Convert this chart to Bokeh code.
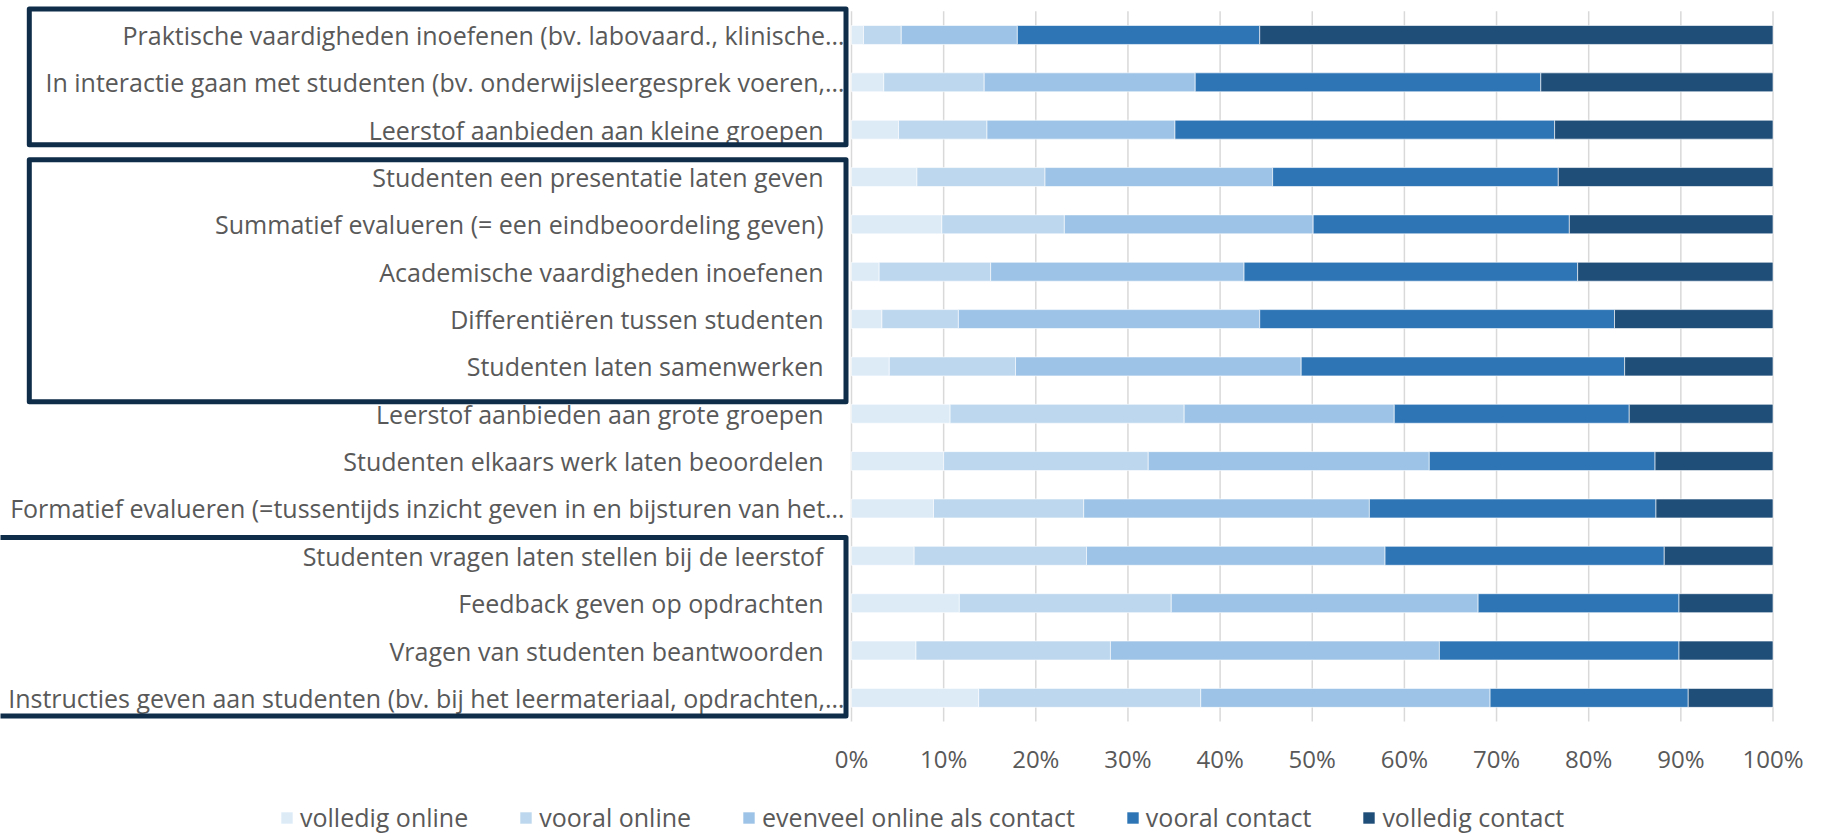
from bokeh.plotting import figure
from bokeh.models import Range1d, Legend, LegendItem, ColumnDataSource
from bokeh.core.properties import value
from bokeh.embed import file_html
from bokeh.resources import INLINE

categories = [
    "Praktische vaardigheden inoefenen (bv. labovaard., klinische…",
    "In interactie gaan met studenten (bv. onderwijsleergesprek voeren,…",
    "Leerstof aanbieden aan kleine groepen",
    "Studenten een presentatie laten geven",
    "Summatief evalueren (= een eindbeoordeling geven)",
    "Academische vaardigheden inoefenen",
    "Differentiëren tussen studenten",
    "Studenten laten samenwerken",
    "Leerstof aanbieden aan grote groepen",
    "Studenten elkaars werk laten beoordelen",
    "Formatief evalueren (=tussentijds inzicht geven in en bijsturen van het…",
    "Studenten vragen laten stellen bij de leerstof",
    "Feedback geven op opdrachten",
    "Vragen van studenten beantwoorden",
    "Instructies geven aan studenten (bv. bij het leermateriaal, opdrachten,…",
]

series_names = ["volledig online", "vooral online", "evenveel online als contact",
                "vooral contact", "volledig contact"]

volledig_online = [1.3, 3.5, 5.1, 7.1, 9.8, 3.0, 3.3, 4.1, 10.7, 10.0, 8.9, 6.8, 11.7, 7.0, 13.8]
vooral_online = [4.1, 10.9, 9.6, 13.9, 13.3, 12.1, 8.3, 13.7, 25.4, 22.2, 16.3, 18.7, 23.0, 21.1, 24.1]
evenveel = [12.6, 22.9, 20.4, 24.7, 27.0, 27.5, 32.7, 31.0, 22.8, 30.5, 31.0, 32.4, 33.3, 35.7, 31.4]
vooral_contact = [26.3, 37.5, 41.2, 31.0, 27.8, 36.2, 38.5, 35.1, 25.5, 24.5, 31.1, 30.3, 21.8, 26.0, 21.5]
volledig_contact = [55.7, 25.2, 23.7, 23.3, 22.1, 21.2, 17.2, 16.1, 15.6, 12.8, 12.7, 11.8, 10.2, 10.2, 9.2]

tick_values = [0, 10, 20, 30, 40, 50, 60, 70, 80, 90, 100]
tick_labels = ["0%", "10%", "20%", "30%", "40%", "50%", "60%", "70%", "80%", "90%", "100%"]

colors = ["#DDEBF7", "#BDD7EE", "#9DC3E6", "#2E75B6", "#1F4E79"]
text_grey = "#595959"
box_color = "#0f2d48"

# ---- layout (screen pixels) ----
W, H = 1818, 834
x0_px, x100_px = 851.0, 1772.5          # where 0% and 100% fall
row_top_px, row_pitch = 10.8, 47.35      # top of first row band, band height
px_per = (x100_px - x0_px) / 100.0


def px_to_x(px):
    return (px - x0_px) / px_per


def px_to_row(py):
    return (py - row_top_px) / row_pitch


n = len(categories)
ys = [i + 0.5 for i in range(n)]

source = ColumnDataSource(data={
    "y": ys,
    "cat": categories,
    "volledig online": volledig_online,
    "vooral online": vooral_online,
    "evenveel online als contact": evenveel,
    "vooral contact": vooral_contact,
    "volledig contact": volledig_contact,
    "xoff": [21 if c.endswith("…") else 0 for c in categories],
})

p = figure(
    frame_width=W, frame_height=H,
    min_border_left=0, min_border_right=0, min_border_top=0, min_border_bottom=0,
    x_range=Range1d(px_to_x(0), px_to_x(W)),
    y_range=Range1d(px_to_row(H), px_to_row(0)),
    x_axis_location=None, y_axis_location=None,
    toolbar_location=None, output_backend="svg",
    background_fill_color="white", border_fill_color="white",
)
p.outline_line_color = None
p.xgrid.visible = False
p.ygrid.visible = False

# vertical gridlines at the tick values
p.segment(x0=tick_values, x1=tick_values, y0=[0] * len(tick_values), y1=[n] * len(tick_values),
          line_color="#d9d9d9", line_width=1.5)

renderers = p.hbar_stack(series_names, y="y", height=0.4, source=source,
                         fill_color=colors, line_color="white", line_width=0.6)

# category labels
p.text(x=px_to_x(823), y="y", text="cat", source=source, x_offset="xoff",
       text_align="right", text_baseline="middle",
       text_font=value("Open Sans"), text_font_size="25px", text_color=text_grey)

# tick labels
tick_y = px_to_row(758)
p.text(x=tick_values, y=[tick_y] * len(tick_values), text=tick_labels,
       text_align="center", text_baseline="middle",
       text_font=value("Open Sans"), text_font_size="24px", text_color=text_grey)

# group frames around label blocks
box_left = [px_to_x(28.8), px_to_x(28.8), px_to_x(-6)]
box_right = [px_to_x(845.5)] * 3
box_top = [px_to_row(8.5), px_to_row(159.2), px_to_row(537)]
box_bottom = [px_to_row(144.2), px_to_row(401.2), px_to_row(715.5)]
p.quad(left=box_left, right=box_right, top=box_top, bottom=box_bottom,
       fill_color=None, line_color=box_color, line_width=5, line_join="round")

items = [LegendItem(label=name, renderers=[r]) for name, r in zip(series_names, renderers)]
legend = Legend(items=items, orientation="horizontal", location=(279, 0),
                label_text_font="Open Sans", label_text_font_size="25px",
                label_text_color=text_grey, glyph_width=15, glyph_height=15,
                label_height=15, label_standoff=6, spacing=50, padding=0, margin=0,
                border_line_color=None, background_fill_alpha=0)
p.add_layout(legend)

open("out.html", "w").write(file_html(p, INLINE))
